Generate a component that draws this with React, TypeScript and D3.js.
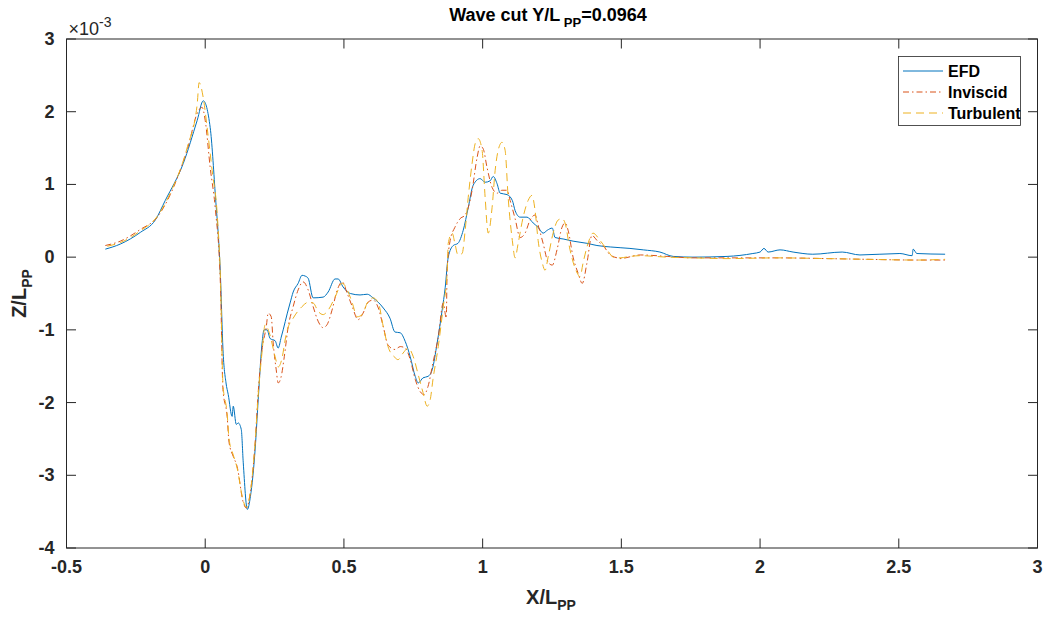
import React from "react";
import * as d3 from "d3";

// wave cut data, X/Lpp and Z/Lpp (x 1e-3)
const efdX = [-0.360, -0.306, -0.234, -0.180, -0.144, -0.079, -0.029, -0.007, 0.018, 0.036, 0.055, 0.064, 0.075, 0.083, 0.097, 0.101, 0.112, 0.119, 0.130, 0.137, 0.152, 0.163, 0.180, 0.191, 0.205, 0.212, 0.223, 0.234, 0.252, 0.263, 0.274, 0.281, 0.296, 0.306, 0.317, 0.335, 0.349, 0.360, 0.371, 0.389, 0.425, 0.443, 0.468, 0.479, 0.497, 0.523, 0.558, 0.584, 0.605, 0.642, 0.666, 0.684, 0.703, 0.721, 0.739, 0.757, 0.768, 0.785, 0.803, 0.818, 0.836, 0.854, 0.865, 0.876, 0.894, 0.911, 0.930, 0.948, 0.966, 0.991, 1.009, 1.027, 1.038, 1.052, 1.063, 1.088, 1.107, 1.117, 1.135, 1.160, 1.182, 1.200, 1.218, 1.233, 1.251, 1.261, 1.290, 1.326, 1.376, 1.412, 1.460, 1.531, 1.579, 1.639, 1.687, 1.758, 1.881, 1.974, 2.000, 2.014, 2.029, 2.072, 2.119, 2.190, 2.296, 2.360, 2.504, 2.548, 2.552, 2.565, 2.667];
const efdZ = [0.11, 0.18, 0.34, 0.51, 0.78, 1.29, 1.88, 2.15, 1.78, 0.88, -0.27, -1.27, -1.73, -1.89, -2.19, -2.05, -2.30, -2.28, -2.37, -2.82, -3.47, -3.29, -2.64, -1.96, -1.18, -1.00, -1.00, -1.12, -1.15, -1.25, -1.10, -1.00, -0.77, -0.63, -0.48, -0.36, -0.25, -0.26, -0.29, -0.56, -0.55, -0.48, -0.30, -0.30, -0.41, -0.50, -0.52, -0.51, -0.56, -0.70, -0.84, -1.03, -1.04, -1.16, -1.37, -1.64, -1.73, -1.66, -1.64, -1.55, -1.18, -0.73, -0.42, 0.00, 0.16, 0.19, 0.37, 0.68, 0.99, 1.08, 1.03, 1.05, 1.11, 1.01, 0.88, 0.86, 0.78, 0.64, 0.55, 0.55, 0.47, 0.41, 0.33, 0.37, 0.40, 0.27, 0.25, 0.22, 0.19, 0.16, 0.14, 0.12, 0.10, 0.07, 0.01, 0.00, 0.01, 0.05, 0.07, 0.12, 0.07, 0.10, 0.07, 0.04, 0.07, 0.03, 0.05, 0.02, 0.11, 0.05, 0.04];

const invX = [-0.360, -0.306, -0.234, -0.173, -0.126, -0.064, -0.025, -0.011, 0.000, 0.018, 0.036, 0.055, 0.064, 0.079, 0.086, 0.101, 0.115, 0.137, 0.148, 0.163, 0.180, 0.191, 0.205, 0.220, 0.227, 0.238, 0.245, 0.256, 0.263, 0.274, 0.285, 0.299, 0.317, 0.335, 0.353, 0.371, 0.389, 0.408, 0.425, 0.439, 0.457, 0.476, 0.494, 0.512, 0.530, 0.551, 0.569, 0.587, 0.605, 0.624, 0.642, 0.659, 0.684, 0.703, 0.721, 0.739, 0.757, 0.775, 0.789, 0.803, 0.821, 0.840, 0.858, 0.869, 0.872, 0.883, 0.900, 0.919, 0.937, 0.948, 0.962, 0.980, 0.991, 1.002, 1.016, 1.034, 1.052, 1.070, 1.088, 1.099, 1.117, 1.135, 1.153, 1.171, 1.189, 1.200, 1.218, 1.236, 1.251, 1.268, 1.286, 1.297, 1.308, 1.326, 1.344, 1.359, 1.376, 1.394, 1.412, 1.434, 1.460, 1.485, 1.495, 1.568, 1.665, 1.758, 1.881, 2.061, 2.241, 2.386, 2.565, 2.667];
const invZ = [0.16, 0.22, 0.38, 0.55, 0.86, 1.49, 2.01, 2.06, 1.88, 1.23, 0.68, -0.40, -1.82, -2.19, -2.55, -2.74, -2.88, -3.37, -3.45, -3.23, -2.55, -1.86, -1.27, -0.96, -0.77, -0.82, -1.18, -1.55, -1.73, -1.64, -1.37, -0.96, -0.68, -0.45, -0.34, -0.45, -0.68, -0.89, -0.97, -0.93, -0.73, -0.45, -0.34, -0.50, -0.68, -0.86, -0.77, -0.62, -0.59, -0.70, -0.96, -1.21, -1.27, -1.23, -1.25, -1.41, -1.68, -1.85, -1.89, -1.78, -1.45, -1.10, -0.63, -0.84, -0.18, 0.23, 0.41, 0.53, 0.58, 0.68, 0.92, 1.37, 1.53, 1.49, 1.23, 0.96, 0.88, 0.92, 0.92, 0.78, 0.53, 0.27, 0.33, 0.51, 0.58, 0.44, 0.19, -0.07, -0.11, 0.10, 0.41, 0.47, 0.37, 0.00, -0.22, -0.36, -0.08, 0.30, 0.23, 0.16, 0.03, -0.01, -0.02, 0.03, 0.01, -0.01, -0.01, -0.01, -0.02, -0.03, -0.04, -0.04];

const turbX = [-0.353, -0.306, -0.234, -0.173, -0.126, -0.064, -0.029, -0.022, -0.007, 0.007, 0.025, 0.044, 0.055, 0.064, 0.079, 0.086, 0.101, 0.115, 0.137, 0.148, 0.163, 0.180, 0.191, 0.205, 0.216, 0.231, 0.252, 0.263, 0.278, 0.288, 0.296, 0.317, 0.349, 0.371, 0.389, 0.408, 0.425, 0.443, 0.468, 0.494, 0.512, 0.530, 0.548, 0.566, 0.584, 0.605, 0.624, 0.642, 0.659, 0.684, 0.695, 0.713, 0.732, 0.750, 0.768, 0.785, 0.800, 0.811, 0.821, 0.840, 0.858, 0.872, 0.876, 0.890, 0.900, 0.911, 0.926, 0.937, 0.948, 0.962, 0.973, 0.984, 0.998, 1.009, 1.020, 1.034, 1.045, 1.056, 1.070, 1.081, 1.092, 1.107, 1.117, 1.128, 1.146, 1.164, 1.178, 1.189, 1.200, 1.215, 1.225, 1.236, 1.254, 1.272, 1.286, 1.297, 1.315, 1.341, 1.351, 1.362, 1.380, 1.398, 1.423, 1.449, 1.471, 1.495, 1.531, 1.568, 1.665, 1.758, 1.881, 2.061, 2.241, 2.386, 2.565, 2.667];
const turbZ = [0.15, 0.20, 0.36, 0.56, 0.88, 1.52, 2.10, 2.40, 2.19, 1.78, 1.19, 0.55, -0.30, -1.75, -2.15, -2.50, -2.72, -2.90, -3.35, -3.44, -3.22, -2.55, -1.90, -1.30, -0.93, -1.04, -1.37, -1.51, -1.37, -1.14, -1.00, -0.84, -0.68, -0.62, -0.63, -0.75, -0.79, -0.73, -0.55, -0.36, -0.45, -0.63, -0.82, -0.79, -0.63, -0.56, -0.63, -0.96, -1.23, -1.38, -1.41, -1.32, -1.25, -1.37, -1.62, -1.86, -2.05, -1.96, -1.68, -1.23, -0.68, -0.22, 0.19, 0.33, 0.19, 0.03, 0.05, 0.37, 0.82, 1.29, 1.56, 1.63, 1.47, 0.82, 0.33, 0.68, 1.19, 1.47, 1.58, 1.47, 0.82, 0.23, -0.01, 0.19, 0.55, 0.78, 0.85, 0.64, 0.23, -0.08, -0.18, 0.00, 0.33, 0.51, 0.53, 0.47, 0.10, -0.22, -0.27, -0.08, 0.19, 0.33, 0.23, 0.10, 0.00, -0.01, 0.01, 0.02, 0.00, -0.01, -0.02, -0.01, -0.02, -0.03, -0.04, -0.03];

const xTicks = [-0.5, 0, 0.5, 1, 1.5, 2, 2.5, 3];
const yTicks = [-4, -3, -2, -1, 0, 1, 2, 3];

const series = [
  { name: "EFD", xs: efdX, zs: efdZ, color: "#0072BD", dash: "" },
  { name: "Inviscid", xs: invX, zs: invZ, color: "#D95319", dash: "6,3,1.5,3" },
  { name: "Turbulent", xs: turbX, zs: turbZ, color: "#EDB120", dash: "8,5" },
];

const W = 1048;
const H = 621;
const left = 66.5, right = 1037.5, top = 39, bottom = 548;
const font = "'Liberation Sans Narrow', 'Liberation Sans', Arial, sans-serif";
const axisColor = "#262626";
const tickLen = 9.5;

export default function App() {
  const x = d3.scaleLinear().domain([-0.5, 3]).range([left, right]);
  const y = d3.scaleLinear().domain([-4, 3]).range([bottom, top]);

  const line = d3
    .line<[number, number]>()
    .x(d => x(d[0]))
    .y(d => y(d[1]))
    .curve(d3.curveMonotoneX);

  return (
    <svg width={W} height={H} style={{ position: "absolute", left: 0, top: 0, background: "#fff" }} fontFamily={font}>
      <defs>
        <clipPath id="plot">
          <rect x={left} y={top} width={right - left} height={bottom - top} />
        </clipPath>
      </defs>

      {/* curves */}
      <g clipPath="url(#plot)" fill="none">
        {series.map(s => (
          <path
            key={s.name}
            d={line(s.xs.map((v, i) => [v, s.zs[i]] as [number, number])) || ""}
            stroke={s.color}
            strokeWidth={1}
            strokeDasharray={s.dash || undefined}
          />
        ))}
      </g>

      {/* box + ticks */}
      <rect x={left} y={top} width={right - left} height={bottom - top} fill="none" stroke={axisColor} strokeWidth={1} />
      {xTicks.map(t => (
        <g key={"x" + t} stroke={axisColor} strokeWidth={1}>
          <line x1={x(t)} x2={x(t)} y1={bottom} y2={bottom - tickLen} />
          <line x1={x(t)} x2={x(t)} y1={top} y2={top + tickLen} />
        </g>
      ))}
      {yTicks.map(t => (
        <g key={"y" + t} stroke={axisColor} strokeWidth={1}>
          <line x1={left} x2={left + tickLen} y1={y(t)} y2={y(t)} />
          <line x1={right} x2={right - tickLen} y1={y(t)} y2={y(t)} />
        </g>
      ))}

      {/* tick labels */}
      {xTicks.map(t => (
        <text key={"xl" + t} x={x(t)} y={bottom + 25} textAnchor="middle" fontSize={18} fontWeight="bold" fill={axisColor}>
          {t}
        </text>
      ))}
      {yTicks.map(t => (
        <text key={"yl" + t} x={left - 12} y={y(t) + 6} textAnchor="end" fontSize={18} fontWeight="bold" fill={axisColor}>
          {t}
        </text>
      ))}
      <text x={left + 2} y={top - 4} fontSize={18} fill={axisColor}>
        ×10<tspan dy={-8} fontSize={14}>-3</tspan>
      </text>

      {/* title and axis labels */}
      <text x={548} y={21} textAnchor="middle" fontSize={18} fontWeight="bold" fill="#000">
        Wave cut Y/L<tspan dy={6} fontSize={13}> PP</tspan><tspan dy={-6}>=0.0964</tspan>
      </text>
      <text x={551} y={604} textAnchor="middle" fontSize={20} fontWeight="bold" fill={axisColor}>
        X/L<tspan dy={6} fontSize={14}>PP</tspan>
      </text>
      <text transform={`translate(26,${(top + bottom) / 2}) rotate(-90)`} textAnchor="middle" fontSize={20} fontWeight="bold" fill={axisColor}>
        Z/L<tspan dy={6} fontSize={14}>PP</tspan>
      </text>

      {/* legend */}
      <g>
        <rect x={898.5} y={56.5} width={122} height={69} fill="#fff" stroke={axisColor} strokeWidth={0.8} />
        {series.map((s, i) => (
          <g key={"lg" + s.name}>
            <line x1={903} x2={943} y1={71 + i * 21} y2={71 + i * 21} stroke={s.color} strokeWidth={1} strokeDasharray={s.dash || undefined} />
            <text x={948} y={77 + i * 21} fontSize={16} fontWeight="bold" fill="#000">
              {s.name}
            </text>
          </g>
        ))}
      </g>
    </svg>
  );
}
